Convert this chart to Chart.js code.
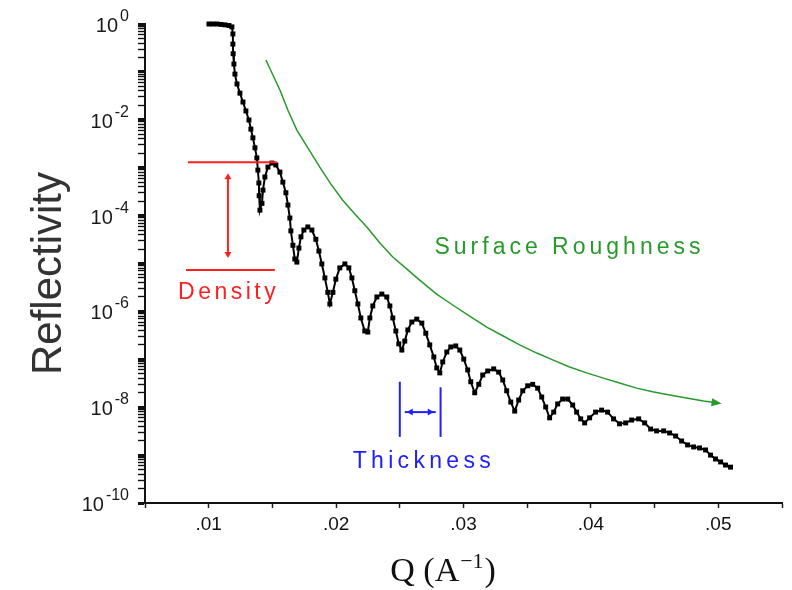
<!DOCTYPE html>
<html>
<head>
<meta charset="utf-8">
<script src="https://cdn.jsdelivr.net/npm/chart.js@4.4.0/dist/chart.umd.min.js"></script>
<style>
  body { margin: 0; background: #fff; }
  canvas { display: block; }
</style>
</head>
<body>
<canvas id="reflChart" width="792" height="590"></canvas>
<script>
// measured reflectivity curve, Q in 1/A
const qValues = [
  0.01002, 0.01033, 0.01065, 0.01096, 0.01127, 0.01159, 0.01182, 0.01190, 0.01190, 0.01192,
  0.01198, 0.01206, 0.01222, 0.01245, 0.01269, 0.01292, 0.01316, 0.01331, 0.01347, 0.01363,
  0.01378, 0.01386, 0.01394, 0.01396, 0.01402, 0.01418, 0.01426, 0.01441, 0.01465, 0.01496,
  0.01527, 0.01559, 0.01582, 0.01606, 0.01622, 0.01637, 0.01645, 0.01661, 0.01676, 0.01692,
  0.01708, 0.01724, 0.01747, 0.01778, 0.01810, 0.01841, 0.01865, 0.01888, 0.01912, 0.01935,
  0.01951, 0.01975, 0.01998, 0.02029, 0.02069, 0.02100, 0.02124, 0.02147, 0.02171, 0.02194,
  0.02225, 0.02249, 0.02265, 0.02288, 0.02320, 0.02359, 0.02398, 0.02422, 0.02445, 0.02469,
  0.02492, 0.02516, 0.02539, 0.02563, 0.02594, 0.02633, 0.02673, 0.02704, 0.02735, 0.02767,
  0.02790, 0.02814, 0.02837, 0.02869, 0.02900, 0.02939, 0.02971, 0.03002, 0.03033, 0.03057,
  0.03088, 0.03120, 0.03151, 0.03190, 0.03237, 0.03276, 0.03308, 0.03339, 0.03371, 0.03402,
  0.03433, 0.03465, 0.03504, 0.03543, 0.03582, 0.03614, 0.03645, 0.03676, 0.03708, 0.03739,
  0.03778, 0.03818, 0.03857, 0.03888, 0.03920, 0.03951, 0.03990, 0.04037, 0.04084, 0.04131,
  0.04178, 0.04225, 0.04273, 0.04320, 0.04375, 0.04422, 0.04469, 0.04516, 0.04571, 0.04618,
  0.04665, 0.04712, 0.04759, 0.04806, 0.04853, 0.04900, 0.04939, 0.04978, 0.05018, 0.05057,
  0.05096
];
const reflectivity = [
  1.0, 1.0, 1.0, 0.98, 0.96, 0.93, 0.87, 0.62, 0.38, 0.24,
  0.146, 0.090, 0.056, 0.036, 0.0235, 0.0153, 0.0099, 0.0064, 0.0042, 0.0026,
  1.6e-3, 8.9e-4, 4.8e-4, 2.6e-4, 1.3e-4, 1.8e-4, 3.4e-4, 6.4e-4, 1.03e-3, 1.25e-3,
  1.14e-3, 8.1e-4, 5.0e-4, 3.0e-4, 1.66e-4, 8.9e-5, 4.8e-5, 2.4e-5, 1.24e-5, 1.07e-5,
  2.1e-5, 3.6e-5, 5.0e-5, 5.8e-5, 5.0e-5, 3.2e-5, 1.82e-5, 9.8e-6, 5.0e-6, 2.5e-6,
  1.43e-6, 2.5e-6, 4.7e-6, 8.1e-6, 9.8e-6, 8.1e-6, 5.0e-6, 2.7e-6, 1.43e-6, 7.3e-7,
  3.9e-7, 3.7e-7, 7.3e-7, 1.30e-6, 2.0e-6, 2.3e-6, 2.0e-6, 1.30e-6, 7.3e-7, 3.9e-7,
  2.1e-7, 1.56e-7, 2.4e-7, 4.1e-7, 6.0e-7, 6.9e-7, 5.7e-7, 3.5e-7, 2.0e-7, 1.12e-7,
  6.6e-8, 5.2e-8, 8.8e-8, 1.42e-7, 1.81e-7, 1.90e-7, 1.56e-7, 1.01e-7, 6.0e-8, 3.4e-8,
  2.0e-8, 3.0e-8, 4.7e-8, 5.7e-8, 6.3e-8, 5.4e-8, 3.7e-8, 2.2e-8, 1.28e-8, 8.3e-9,
  1.41e-8, 2.2e-8, 2.8e-8, 3.0e-8, 2.5e-8, 1.63e-8, 1.01e-8, 6.0e-9, 7.9e-9, 1.17e-8,
  1.48e-8, 1.48e-8, 1.11e-8, 7.9e-9, 5.7e-9, 4.7e-9, 6.0e-9, 7.9e-9, 8.7e-9, 7.9e-9,
  5.7e-9, 4.5e-9, 4.7e-9, 5.4e-9, 5.7e-9, 4.7e-9, 3.5e-9, 3.2e-9, 3.2e-9, 2.9e-9,
  2.5e-9, 1.97e-9, 1.63e-9, 1.48e-9, 1.41e-9, 1.28e-9, 1.00e-9, 8.3e-10, 7.2e-10, 6.2e-10,
  5.6e-10
];

// surface roughness envelope (green arrow)
const roughQ = [
  0.01449, 0.01504, 0.01559, 0.01621, 0.01692, 0.01778, 0.01872, 0.01958, 0.02052, 0.02147,
  0.02241, 0.02342, 0.02445, 0.02554, 0.02656, 0.02789, 0.02915, 0.03048, 0.03182, 0.03308,
  0.03441, 0.03575, 0.03700, 0.03833, 0.03967, 0.04092, 0.04225, 0.04359, 0.04484, 0.04618,
  0.04751, 0.04884, 0.05002
];
const roughR = [
  0.177, 0.086, 0.042, 0.016, 6.1e-3, 2.6e-3, 1.03e-3, 4.6e-4, 2.1e-4, 1.08e-4,
  5.8e-5, 2.7e-5, 1.37e-5, 7.7e-6, 4.5e-6, 2.3e-6, 1.36e-6, 8.0e-7, 4.7e-7, 3.1e-7,
  2.0e-7, 1.35e-7, 9.7e-8, 6.9e-8, 5.2e-8, 4.1e-8, 3.2e-8, 2.5e-8, 2.1e-8, 1.80e-8,
  1.56e-8, 1.35e-8, 1.22e-8
];

// axis ticks
const xMajorTicks = [0.01, 0.02, 0.03, 0.04, 0.05];
const xTickLabels = ['.01', '.02', '.03', '.04', '.05'];
const xMinorTicks = [0.005, 0.015, 0.025, 0.035, 0.045, 0.055];
const yLabelExponents = [0, -2, -4, -6, -8, -10];

// annotation anchors, in data units
const densityTopR = 1.3e-3, densityBottomR = 7.3e-6;
const densityTopQ = [0.00837, 0.01535], densityBottomQ = [0.00822, 0.01519];
const densityArrow = { q: 0.01151, from: 7.7e-4, to: 1.3e-5 };
const densityLabel = { q: 0.01143, r: 2.5e-6 };
const thickLeft = { q: 0.0250, top: 3.4e-8 }, thickRight = { q: 0.0282, top: 2.6e-8 };
const thickBottomR = 2.4e-9;
const thickArrow = { r: 7.9e-9, from: 0.02539, to: 0.02782 };
const thickLabel = { q: 0.02672, r: 7.2e-10 };
const roughLabel = { q: 0.03816, r: 2.1e-5 };
const xTitleQ = 0.0284;

const RED = '#ff1f1f', BLUE = '#2020ff', GREEN = '#269a2b';
const SANS = '"Liberation Sans", Arial, sans-serif';

function arrowHead(c, x, y, ang, len, wid, color) {
    c.save();
    c.translate(x, y);
    c.rotate(ang);
    c.fillStyle = color;
    c.beginPath();
    c.moveTo(0, 0);
    c.lineTo(-len, -wid);
    c.lineTo(-len, wid);
    c.closePath();
    c.fill();
    c.restore();
}

function line(c, x1, y1, x2, y2, color, w) {
    c.strokeStyle = color;
    c.lineWidth = w;
    c.beginPath();
    c.moveTo(x1, y1);
    c.lineTo(x2, y2);
    c.stroke();
}

function spacedText(c, text, x, y, font, color, spacing) {
    c.font = font;
    c.fillStyle = color;
    c.letterSpacing = spacing + 'px';
    c.textAlign = 'center';
    c.textBaseline = 'middle';
    c.fillText(text, x + spacing / 2, y);
    c.letterSpacing = '0px';
}

const decorations = {
    id: 'decorations',
    afterDraw(chart) {
        const c = chart.ctx;
        const xs = chart.scales.x, ys = chart.scales.y;
        const px = q => xs.getPixelForValue(q);
        const py = r => ys.getPixelForValue(r);
        c.save();

        // y tick labels 10^n
        c.fillStyle = '#1a1a1a';
        c.textAlign = 'right';
        c.textBaseline = 'alphabetic';
        yLabelExponents.forEach(e => {
            const y = py(Math.pow(10, e));
            const sup = String(e);
            const right = ys.right - 16;
            c.font = '16px ' + SANS;
            const sw = c.measureText(sup).width;
            c.fillText(sup, right, y - 3);
            c.font = '20px ' + SANS;
            c.fillText('10', right - sw - 2, y + 8);
        });

        // y title
        c.save();
        c.translate(61, (chart.chartArea.top + chart.chartArea.bottom) / 2 + 10);
        c.rotate(-Math.PI / 2);
        c.font = '42px ' + SANS;
        c.fillStyle = '#333';
        c.textAlign = 'center';
        c.textBaseline = 'alphabetic';
        c.fillText('Reflectivity', 0, 0);
        c.restore();

        // x title Q (A^-1)
        const serif = '"Liberation Serif", "DejaVu Serif", serif';
        const base = 581;
        c.font = '34px ' + serif;
        const w1 = c.measureText('Q (A').width;
        const w3 = c.measureText(')').width;
        c.font = '22px ' + serif;
        const w2 = c.measureText('\u22121').width;
        const x0 = px(xTitleQ) - (w1 + w2 + w3 + 2) / 2;
        c.fillStyle = '#111';
        c.textAlign = 'left';
        c.font = '34px ' + serif;
        c.fillText('Q (A', x0, base);
        c.font = '22px ' + serif;
        c.fillText('\u22121', x0 + w1 + 1, base - 13);
        c.font = '34px ' + serif;
        c.fillText(')', x0 + w1 + w2 + 2, base);

        // density marker
        line(c, px(densityTopQ[0]), py(densityTopR), px(densityTopQ[1]), py(densityTopR), RED, 2);
        line(c, px(densityBottomQ[0]), py(densityBottomR), px(densityBottomQ[1]), py(densityBottomR), RED, 2);
        const dx = px(densityArrow.q), dy1 = py(densityArrow.from), dy2 = py(densityArrow.to);
        line(c, dx, dy1 + 3, dx, dy2 - 3, RED, 2);
        arrowHead(c, dx, dy1, -Math.PI / 2, 6, 3.5, RED);
        arrowHead(c, dx, dy2, Math.PI / 2, 6, 3.5, RED);
        spacedText(c, 'Density', px(densityLabel.q), py(densityLabel.r), '23px ' + SANS, RED, 3.5);

        // thickness marker
        line(c, px(thickLeft.q), py(thickLeft.top), px(thickLeft.q), py(thickBottomR), BLUE, 2);
        line(c, px(thickRight.q), py(thickRight.top), px(thickRight.q), py(thickBottomR), BLUE, 2);
        const ty = py(thickArrow.r), tx1 = px(thickArrow.from), tx2 = px(thickArrow.to);
        line(c, tx1, ty, tx2, ty, BLUE, 2);
        arrowHead(c, tx1 + 2, ty, Math.PI, 6, 3.5, BLUE);
        arrowHead(c, tx2 - 2, ty, 0, 6, 3.5, BLUE);
        spacedText(c, 'Thickness', px(thickLabel.q), py(thickLabel.r), '23px ' + SANS, BLUE, 4.3);

        // roughness arrow head + label
        const n = roughQ.length;
        const ex = px(roughQ[n - 1]), ey = py(roughR[n - 1]);
        const ang = Math.atan2(ey - py(roughR[n - 2]), ex - px(roughQ[n - 2]));
        arrowHead(c, ex + 3, ey + 0.5, ang, 10, 4, GREEN);
        spacedText(c, 'Surface Roughness', px(roughLabel.q), py(roughLabel.r), '23px ' + SANS, GREEN, 4);

        c.restore();
    }
};

const isDecade = v => Math.abs(Math.log10(v) - Math.round(Math.log10(v))) < 1e-6;

const ctx = document.getElementById('reflChart');
const reflChart = new Chart(ctx, {
    type: 'scatter',
    data: {
        datasets: [{
            label: 'Reflectivity',
            data: qValues.map((q, i) => ({ x: q, y: reflectivity[i] })),
            showLine: true,
            borderColor: '#000',
            borderWidth: 2,
            pointStyle: 'rect',
            pointRadius: 3.5,
            pointBorderWidth: 0,
            pointBackgroundColor: '#000',
            clip: false
        }, {
            label: 'Surface Roughness',
            data: roughQ.map((q, i) => ({ x: q, y: roughR[i] })),
            showLine: true,
            borderColor: GREEN,
            borderWidth: 1.5,
            pointRadius: 0
        }]
    },
    options: {
        responsive: false,
        animation: false,
        layout: { padding: { left: 0, right: 10, top: 24, bottom: 0 } },
        plugins: { legend: { display: false }, tooltip: { enabled: false } },
        scales: {
            x: {
                type: 'linear',
                min: 0.005,
                max: 0.055,
                afterBuildTicks: s => {
                    s.ticks = xMinorTicks.concat(xMajorTicks).sort((a, b) => a - b).map(v => ({ value: v }));
                },
                afterFit: s => { s.height = 87; },
                ticks: {
                    autoSkip: false,
                    maxRotation: 0,
                    padding: 5,
                    color: '#111',
                    font: { family: SANS, size: 19 },
                    callback: value => {
                        const i = xMajorTicks.findIndex(v => Math.abs(v - value) < 1e-9);
                        return i >= 0 ? xTickLabels[i] : '';
                    }
                },
                grid: { drawOnChartArea: false, tickLength: 5, tickWidth: 1.5, tickColor: '#222' },
                border: { color: '#111', width: 2 }
            },
            y: {
                type: 'logarithmic',
                min: 1e-10,
                max: 1,
                afterBuildTicks: s => {
                    const t = [];
                    for (let e = -10; e <= 0; e++) {
                        for (let k = 1; k <= 9; k++) {
                            if (e === 0 && k > 1) break;
                            t.push({ value: k * Math.pow(10, e) });
                        }
                    }
                    s.ticks = t;
                },
                afterFit: s => { s.width = 145; },
                ticks: { display: false, autoSkip: false },
                grid: {
                    drawOnChartArea: false,
                    tickLength: 7,
                    tickColor: '#111',
                    tickWidth: c => (c.tick && isDecade(c.tick.value)) ? 3 : 1.4
                },
                border: { color: '#111', width: 2 }
            }
        }
    },
    plugins: [decorations]
});
</script>
</body>
</html>
